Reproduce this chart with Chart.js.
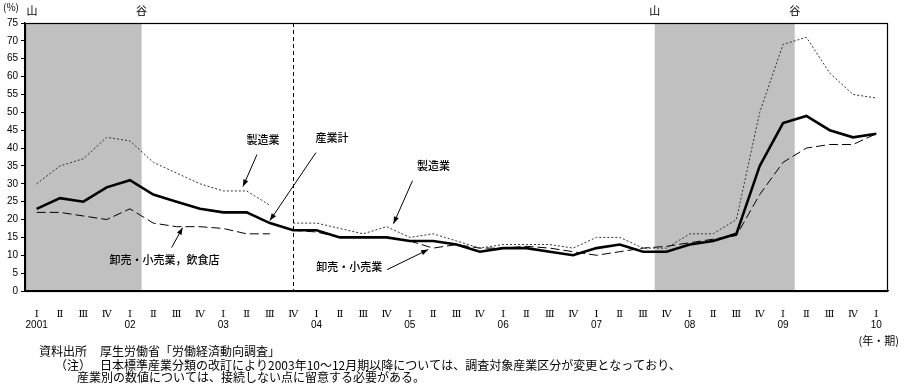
<!DOCTYPE html>
<html><head><meta charset="utf-8">
<script src="https://cdn.jsdelivr.net/npm/chart.js@4/dist/chart.umd.min.js"></script>
<style>html,body{margin:0;padding:0;background:#fff;}#wrap{width:905px;height:392px;position:relative;}</style>
</head><body><div id="wrap"><canvas id="c" width="905" height="392"></canvas></div>
<script>
// ---- data ----
const years = ['2001','02','03','04','05','06','07','08','09','10'];
const quarterNames = ['Ⅰ','Ⅱ','Ⅲ','Ⅳ'];
const nPeriods = 37; // 2001 I .. 2010 I
const yTicks = [0,5,10,15,20,25,30,35,40,45,50,55,60,65,70,75];

const totalValues = [23,26,25,29,31,27,25,23,22,22,19,17,17,15,15,15,14,14,13,11,12,12,11,10,12,13,11,11,13,14,16,35,47,49,45,43,44];
// manufacturing: old classification (2001 I - 2003 III), new classification (2003 IV - 2010 I)
const mfgOld = [30,35,37,43,42,36,33,30,28,28,24];
const mfgNew = [19,19,17.5,16,18,15,16,14,12,13,13,13,12,15,15,12,12,16,16,20,50,69,71,61,55,54];
// wholesale/retail & restaurants (old), wholesale/retail (new)
const whOld = [22,22,21,20,23,19,18,18,17.5,16,16];
const whNew = [17,16.5,15,15,15,14,12,13,12,12,12.5,12,11,10,11,12,12.5,13.5,14.5,15.5,27,36,40,41,41,44];

const recessions = [{from:0,to:4},{from:27,to:32}]; // period indices (peak..trough)
const breakIndex = 11; // 2003 IV

const categories = [];
for (let i = 0; i < nPeriods; i++) {
  const q = i % 4;
  categories.push([quarterNames[q], q === 0 ? years[Math.floor(i/4)] : '']);
}
const pad = (arr, before, total) => { const o = []; for (let i=0;i<total;i++){ o.push(i>=before && i-before<arr.length ? arr[i-before] : null);} return o; };

const notes = [
  {text:'製造業', idx:9, val:28, tip:[-3.6,-4.4], tail:[14,-32], label:[20,-47]},
  {text:'産業計', idx:10, val:19, tip:[0,-2.5], tail:[46,-68], label:[62,-83]},
  {text:'卸売・小売業，飲食店', idx:6, val:18, tip:[6,1], tail:[-11,20], label:[-18,32]},
  {text:'製造業', idx:15, val:18, tip:[7,-3], tail:[19,-43], label:[40,-58]},
  {text:'卸売・小売業', idx:17, val:12, tip:[-5,1.5], tail:[-41,20], label:[-79,17]}
];

const JP = "'Noto Sans CJK JP', sans-serif";

const decor = {
  id:'decor',
  beforeDraw(chart){
    const {ctx, chartArea:a, scales:{x}} = chart;
    ctx.save();
    ctx.fillStyle = '#fff'; ctx.fillRect(0,0,chart.width,chart.height);
    const half = (x.getPixelForValue(1)-x.getPixelForValue(0))/2;
    ctx.fillStyle = '#c0c0c0';
    recessions.forEach(r=>{
      const x0 = x.getPixelForValue(r.from)-half, x1 = x.getPixelForValue(r.to)+half;
      ctx.fillRect(x0, a.top, x1-x0, a.bottom-a.top);
    });
    ctx.restore();
  },
  beforeDatasetsDraw(chart){
    const {ctx, chartArea:a, scales:{x}} = chart;
    ctx.save();
    const bx = Math.round(x.getPixelForValue(breakIndex))+0.5;
    ctx.strokeStyle='#000'; ctx.lineWidth=1; ctx.setLineDash([4,3]);
    ctx.beginPath(); ctx.moveTo(bx,a.top); ctx.lineTo(bx,a.bottom); ctx.stroke();
    ctx.restore();
  },
  afterDatasetsDraw(chart){
    const {ctx, chartArea:a, scales:{x,y}} = chart;
    ctx.save();
    ctx.strokeStyle='#000'; ctx.lineWidth=1.2;
    ctx.strokeRect(a.left+0.5, a.top+0.5, a.right-a.left-1, a.bottom-a.top);
    // annotations
    ctx.fillStyle='#000'; ctx.strokeStyle='#000'; ctx.lineWidth=1;
    ctx.font = "500 11px " + JP; ctx.textAlign='center'; ctx.textBaseline='middle';
    notes.forEach(n=>{
      const px = x.getPixelForValue(n.idx), py = y.getPixelForValue(n.val);
      const tx = px+n.tip[0], ty = py+n.tip[1];
      const sx = tx+n.tail[0], sy = ty+n.tail[1];
      ctx.beginPath(); ctx.moveTo(sx,sy); ctx.lineTo(tx,ty); ctx.stroke();
      const ang = Math.atan2(ty-sy, tx-sx), L=7, W=2.6;
      ctx.beginPath(); ctx.moveTo(tx,ty);
      ctx.lineTo(tx-L*Math.cos(ang)+W*Math.sin(ang), ty-L*Math.sin(ang)-W*Math.cos(ang));
      ctx.lineTo(tx-L*Math.cos(ang)-W*Math.sin(ang), ty-L*Math.sin(ang)+W*Math.cos(ang));
      ctx.closePath(); ctx.fill();
      ctx.fillText(n.text, tx+n.label[0], ty+n.label[1]);
    });
    // peak / trough marks
    const half = (x.getPixelForValue(1)-x.getPixelForValue(0))/2;
    ctx.font = "11px " + JP;
    recessions.forEach(r=>{
      const x0 = Math.max(x.getPixelForValue(r.from)-half, 32), x1 = x.getPixelForValue(r.to)+half;
      ctx.fillText('山', x0, 11);
      ctx.fillText('谷', x1, 11);
    });
    ctx.font = "10px " + JP; ctx.textAlign='left';
    ctx.fillText('(%)', 3, 7);
    // footnotes
    ctx.font = "12px " + JP; ctx.textAlign='left';
    ctx.fillText('資料出所', 39, 351);
    ctx.fillText('厚生労働省「労働経済動向調査」', 100, 351);
    ctx.fillText('（注）', 55, 365);
    ctx.fillText('日本標準産業分類の改訂により2003年10～12月期以降については、調査対象産業区分が変更となっており、', 100, 365);
    ctx.fillText('産業別の数値については、接続しない点に留意する必要がある。', 77, 377);
    ctx.font = "11px " + JP; ctx.textAlign='right';
    ctx.fillText('(年・期)', 899, 341);
    ctx.restore();
  }
};

new Chart(document.getElementById('c'), {
  type:'line',
  data:{
    labels: categories,
    datasets:[
      {label:'産業計', data: totalValues, borderColor:'#000', borderWidth:2.6, pointRadius:0, tension:0},
      {label:'製造業', data: pad(mfgOld,0,nPeriods), borderColor:'#333', borderWidth:1, borderDash:[2,2], pointRadius:0, tension:0, spanGaps:false},
      {label:'製造業', data: pad(mfgNew,breakIndex,nPeriods), borderColor:'#333', borderWidth:1, borderDash:[2,2], pointRadius:0, tension:0, spanGaps:false},
      {label:'卸売・小売業，飲食店', data: pad(whOld,0,nPeriods), borderColor:'#000', borderWidth:1, borderDash:[9,4], pointRadius:0, tension:0, spanGaps:false},
      {label:'卸売・小売業', data: pad(whNew,breakIndex,nPeriods), borderColor:'#000', borderWidth:1, borderDash:[9,4], pointRadius:0, tension:0, spanGaps:false}
    ]
  },
  options:{
    responsive:false, animation:false, devicePixelRatio:1,
    layout:{padding:{top:23,right:17,left:0,bottom:0}},
    plugins:{legend:{display:false}, tooltip:{enabled:false}},
    scales:{
      x:{type:'category', offset:true,
        grid:{display:false, drawTicks:false},
        border:{display:true, color:'#000', width:1.2},
        ticks:{autoSkip:false, maxRotation:0, minRotation:0, padding:18, color:'#000',
          font:{family:"'Liberation Sans','DejaVu Serif','Noto Sans CJK JP'", size:10, lineHeight:1.1}},
        afterFit(s){ s.height = 101; }
      },
      y:{min:0, max:75,
        afterBuildTicks(s){ s.ticks = yTicks.map(v=>({value:v})); },
        grid:{drawOnChartArea:false, drawTicks:true, tickLength:4, color:'#000'},
        border:{display:true, color:'#000', width:1.2},
        ticks:{padding:3, color:'#000', font:{family:"'Liberation Sans', sans-serif", size:10}},
        afterFit(s){ s.width = 25; }
      }
    }
  },
  plugins:[decor]
});
</script>
</body></html>
